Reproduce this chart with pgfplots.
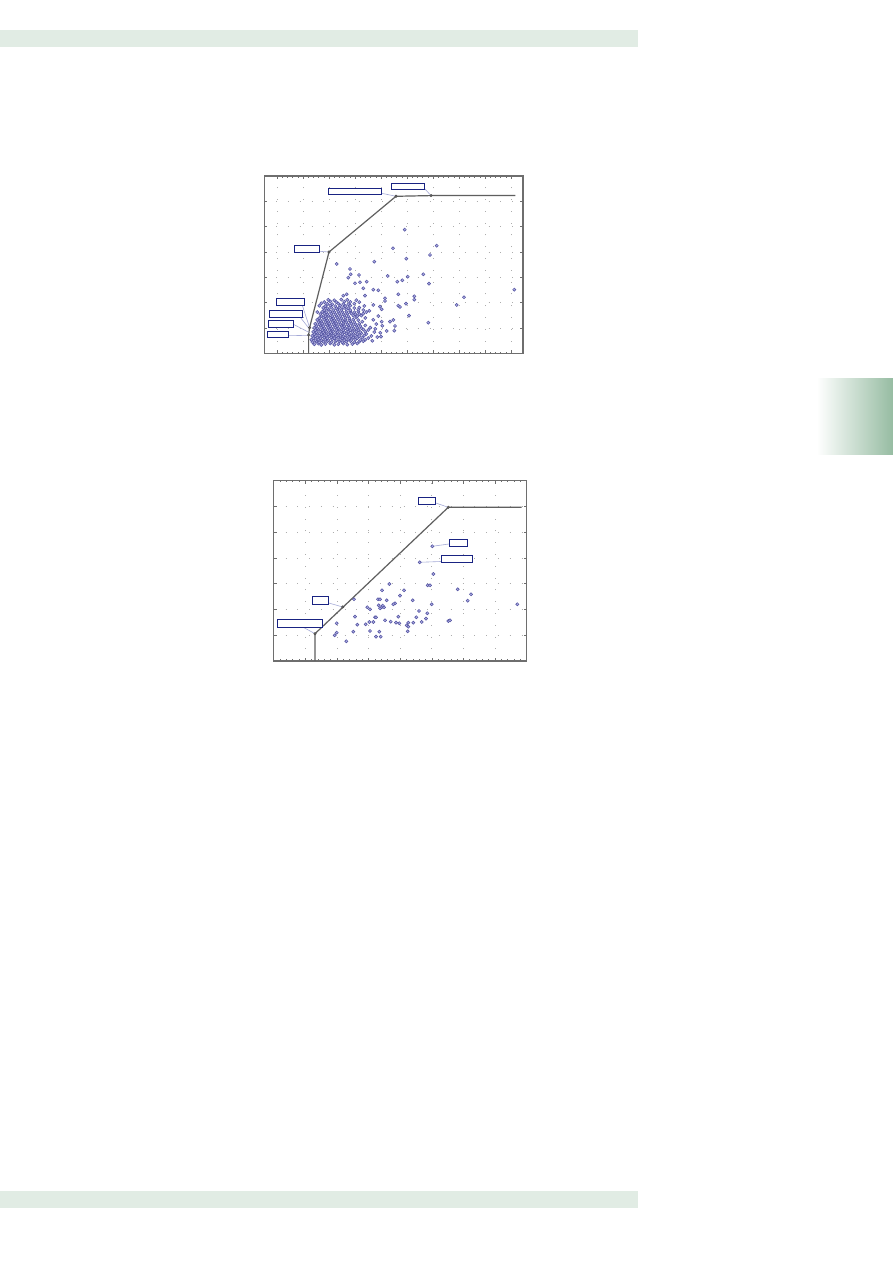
\documentclass[border=0pt]{standalone}
\usepackage{pgfplots}
\pgfplotsset{compat=1.18}
\definecolor{band}{RGB}{225,236,228}
\definecolor{tab}{RGB}{150,188,162}
\definecolor{ptdraw}{RGB}{80,80,160}
\definecolor{ptfill}{RGB}{170,170,222}
\definecolor{lbl}{RGB}{25,35,130}
\definecolor{conn}{RGB}{165,170,215}
\definecolor{frame}{RGB}{110,110,110}
\definecolor{front}{RGB}{95,95,95}
\tikzset{
  lblbox/.style={draw=lbl, line width=0.9pt, fill=white},
  connline/.style={conn, line width=0.6pt},
}
\pgfplotsset{
  pagechart/.style={
    scale only axis, anchor=south west, clip=false,
    axis line style={frame, line width=1.1pt},
    tick align=inside, xticklabels={}, yticklabels={},
    major tick length=3pt, minor tick length=1.6pt,
    every tick/.style={frame, line width=0.6pt},
    xmajorgrids, ymajorgrids,
    major grid style={black!32, line width=0.8pt, dash pattern=on 0.8pt off 11pt},
  },
  pts/.style={only marks, mark=*, mark size=1.6pt,
    mark options={draw=ptdraw, fill=ptfill, line width=0.5pt}},
  frontline/.style={front, line width=1.2pt, no marks},
  frontpts/.style={only marks, mark=*, mark size=1.3pt, mark options={draw=black!70, fill=black!60}},
}
\begin{document}
\begin{tikzpicture}
\fill[white] (0pt,0pt) rectangle (893pt,1263pt);
\useasboundingbox (0pt,0pt) rectangle (893pt,1263pt);
\fill[band] (0pt,1215.7pt) rectangle (637.7pt,1233pt);
\fill[band] (0pt,55.3pt) rectangle (637.7pt,72pt);
\shade[left color=white, right color=tab] (816.7pt,808pt) rectangle (893pt,884.7pt);

% ---------------- chart 1 ----------------
\begin{axis}[pagechart, at={(264.3pt,909.7pt)}, width=258.7pt, height=177.3pt,
  xmin=0, xmax=258.7, ymin=0, ymax=177.3,
  xtick={12.7,38.7,64.7,90.7,116.7,142.7,168.7,194.7,220.7,246.7},
  ytick={0,25.33,50.66,75.99,101.32,126.65,151.98,177.3},
  minor x tick num=4, minor y tick num=1]
\addplot[pts] coordinates {
(50,9)(54,9.7)(57,8.4)(61,9.2)(66,9.8)(70,8.5)(74,9.1)(79,9.7)(83,8.6)(88,9.2)(93,9.8)
(48,11.2)(52,11.8)(55,10.9)(59,11.5)(63,12)(67,11)(71,11.6)(75,12.1)(78,11)(82,11.6)(86,12.2)(90,11.1)(95,11.7)(99,12.1)
(47,13.5)(51,13)(54,13.8)(57,13.1)(61,13.7)(64,13.2)(68,13.9)(72,13)(76,13.6)(80,13.1)(84,13.8)(87,13.2)(91,13.7)(96,13.1)(101,13.6)
(49,15.2)(53,15.8)(56,15)(60,15.6)(63,15.1)(67,15.9)(70,15.2)(74,15.7)(78,15)(81,15.6)(85,15.2)(89,15.9)(93,15.1)(98,15.6)(104,15.2)
(48,17.4)(51,17)(55,17.7)(58,17.1)(62,17.6)(65,17.2)(69,17.8)(72,17)(76,17.5)(79,17.1)(83,17.7)(87,17.2)(91,17.6)(95,17.1)(100,17.8)(107,17.3)
(50,19.2)(53,19.8)(57,19.1)(60,19.6)(64,19.2)(67,19.9)(71,19.1)(74,19.7)(78,19.2)(82,19.8)(85,19.1)(89,19.7)(93,19.2)(97,19.8)(102,19.3)
(49,21.4)(52,21)(56,21.7)(59,21.1)(62,21.6)(66,21.2)(69,21.8)(73,21)(77,21.6)(80,21.1)(84,21.7)(88,21.2)(92,21.8)(96,21.1)(101,21.6)(110,21.2)
(51,23.2)(54,23.8)(58,23.1)(61,23.7)(65,23.2)(68,23.8)(72,23.1)(75,23.6)(79,23.2)(83,23.9)(86,23.1)(90,23.7)(94,23.2)(99,23.8)(104,23.3)
(50,25.4)(53,25)(57,25.7)(60,25.1)(64,25.6)(67,25.2)(71,25.8)(74,25)(78,25.6)(81,25.2)(85,25.7)(89,25.1)(93,25.6)(97,25.2)(106,25.7)
(52,27.2)(56,27.8)(59,27.1)(63,27.7)(66,27.2)(70,27.8)(73,27.1)(77,27.6)(80,27.2)(84,27.9)(88,27.1)(92,27.7)(96,27.2)(101,27.8)
(51,29.4)(55,29)(58,29.7)(62,29.1)(65,29.6)(69,29.2)(72,29.8)(76,29)(79,29.6)(83,29.2)(87,29.7)(91,29.1)(95,29.6)(112,29.2)
(54,31.2)(57,31.8)(61,31.1)(64,31.7)(68,31.2)(71,31.8)(75,31.1)(79,31.6)(82,31.2)(86,31.9)(90,31.1)(98,31.6)
(53,33.4)(56,33)(60,33.7)(63,33.1)(67,33.6)(70,33.2)(74,33.8)(78,33)(81,33.6)(85,33.2)(89,33.7)(94,33.1)
(55,35.2)(59,35.8)(62,35.1)(66,35.7)(69,35.2)(73,35.8)(77,35.1)(81,35.6)(85,35.2)(92,35.8)(101,35.3)
(57,37.4)(61,37)(64,37.7)(68,37.1)(72,37.6)(76,37.2)(80,37.8)(84,37)(89,37.6)(93,37.1)(97,37.7)
(56,39.2)(60,39.8)(63,39.1)(67,39.7)(71,39.2)(75,39.8)(79,39.1)(83,39.6)(87,39.8)(91,39.2)(95,39.2)(99,39.7)
(53,41.2)(58,41.4)(62,41)(66,41.7)(70,41.1)(74,41.6)(78,41.2)(82,41.5)(86,41.8)(90,41.1)(94,41.6)(102,41.2)
(60,43.2)(64,43.8)(69,43.1)(73,43.7)(77,43.2)(82,43.8)(86,43.1)(94,43.6)(99,43.2)
(59,45.4)(63,45)(67,45.7)(72,45.1)(75,45.8)(79,45.6)(84,45.2)(90,45.2)(95,45.7)
(55,47.5)(61,47.2)(66,47.8)(71,47.1)(76,47.7)(81,47.2)(86,47.7)(100,47.3)
(57,50)(63,49.4)(68,49)(74,49.7)(79,49.2)(84,49.1)(90,49.6)
(60,51.2)(66,51.8)(72,51.1)(80,51.6)(86,51.3)(95,51.1)
(64,53.4)(70,53)(77,53.7)(83,53.4)(92,53.1)
(108,12.5)(113,16.2)(116,20.5)(111,24.5)(118,27.5)(109,33.5)(114,37.2)(105,42.5)
(140.4,123.6)(172.4,107.6)(128.7,105)(165.7,98.3)(142,94.6)(72.4,89.3)(110,91.6)
(85.7,84.3)(86.4,79)(94.7,78.3)(84,75.6)(159,79)(123.4,77.3)(143.4,76.6)(138,73)
(133,71.6)(102.4,71.6)(90.7,70)(95.7,71)(164.7,69.6)(250,63.6)(109,63.6)(114,63)
(99,65)(134,59)(199.7,56)(150,57)(150,53.6)(120.7,55)(120.7,52.3)(79,57.6)(82.4,59)
(100.7,57.6)(141.7,49.6)(134,47.6)(135.7,46.3)(192.4,48.3)(109,48.3)(115.7,46.6)
(117.4,44)(144.7,37.6)(164,30.6)(125.7,31.6)(129,33.3)(130.7,27.3)(130,22.6)
(116.7,16.6)(122.4,22.3)(117.4,31.6)
};
\addplot[frontline] coordinates {(44.3,0)(44.3,18.3)(45.3,25.7)(64.7,101.3)(131.7,157)(166.7,157.7)(251,157.7)};
\addplot[frontpts] coordinates {(44.3,18.3)(45.3,25.7)(64.7,101.3)(131.7,157)(166.7,157.7)};
\draw[connline] (axis cs:117.4,160) -- (axis cs:131.7,157);
\draw[connline] (axis cs:160,165) -- (axis cs:166.7,157.7);
\draw[connline] (axis cs:55,102) -- (axis cs:64.7,101.3);
\draw[connline] (axis cs:38,48) -- (axis cs:45.3,25.7);
\draw[connline] (axis cs:36,36) -- (axis cs:45,24.5);
\draw[connline] (axis cs:29,29) -- (axis cs:44.5,21);
\draw[connline] (axis cs:24,18) -- (axis cs:44.3,17.6);
\draw[lblbox] (axis cs:64,159) rectangle (axis cs:117.4,165);
\draw[lblbox] (axis cs:127,164) rectangle (axis cs:160,170);
\draw[lblbox] (axis cs:30,101) rectangle (axis cs:55,108.3);
\draw[lblbox] (axis cs:12,48) rectangle (axis cs:40,55);
\draw[lblbox] (axis cs:5,36) rectangle (axis cs:38,43);
\draw[lblbox] (axis cs:4,26) rectangle (axis cs:29,33);
\draw[lblbox] (axis cs:3,15.6) rectangle (axis cs:24,22);
\end{axis}

% ---------------- chart 2 ----------------
\begin{axis}[pagechart, at={(273.7pt,602pt)}, width=253pt, height=180.3pt,
  xmin=0, xmax=253, ymin=0, ymax=180.3,
  xtick={0,31.625,63.25,94.875,126.5,158.125,189.75,221.375,253},
  ytick={0,25.76,51.52,77.28,103.04,128.8,154.56,180.3},
  minor x tick num=4, minor y tick num=1]
\addplot[pts] coordinates {
(146,98.7)(158.6,114.7)(159.6,87)(115.6,77)(154,75.7)(156.3,75.7)(108.3,70.7)(130.3,70.7)
(184,71.7)(197.3,66.7)(126.3,65.3)(80.3,61.7)(104.3,61.7)(106.3,61.7)(113,60.7)(121.3,57.7)
(119.6,56.7)(139,60.7)(194,60.3)(158,56.7)(243.6,56.7)(93.6,53.7)(96.3,51.7)(105,55.7)
(108,53.7)(110.3,53.7)(106.3,52.7)(109,55.3)(145.3,50)(153.6,47.7)(124.6,44.3)(81.3,44.3)
(101.3,43.7)(102.3,43.7)(142.6,43.7)(152.3,42.3)(111.3,40.7)(117,39.3)(95.6,39)(99.6,39)
(122.3,38.3)(125.6,37.7)(134.6,38.3)(139.6,38.3)(148,39)(174.6,40)(176.3,40.7)(63,37.7)
(83.6,36.3)(92,36.7)(133,35.7)(134.6,34.3)(79.6,29.3)(96.3,30)(105.6,29.3)(134,29.7)
(63,28.3)(61,25.7)(102.3,24.3)(107,24.3)(72.6,19.7)
};
\addplot[frontline] coordinates {(41.3,0)(41.3,27.3)(174.6,153.7)(248,153.7)};
\addplot[frontpts] coordinates {(41.3,27.3)(69,54)(174.6,153.7)};
\draw[connline] (axis cs:162,158) -- (axis cs:174.6,153.7);
\draw[connline] (axis cs:175.3,117) -- (axis cs:158.6,114.7);
\draw[connline] (axis cs:167.6,99.5) -- (axis cs:146,98.7);
\draw[connline] (axis cs:55,58) -- (axis cs:69,54);
\draw[connline] (axis cs:29.6,33.7) -- (axis cs:41.3,27.3);
\draw[lblbox] (axis cs:144.6,156.7) rectangle (axis cs:162,163.3);
\draw[lblbox] (axis cs:175.3,114.7) rectangle (axis cs:193.6,121.7);
\draw[lblbox] (axis cs:167.6,98.7) rectangle (axis cs:199,106);
\draw[lblbox] (axis cs:38.6,57) rectangle (axis cs:55,64.7);
\draw[lblbox] (axis cs:3.6,33.7) rectangle (axis cs:49,41.7);
\end{axis}
\end{tikzpicture}
\end{document}
